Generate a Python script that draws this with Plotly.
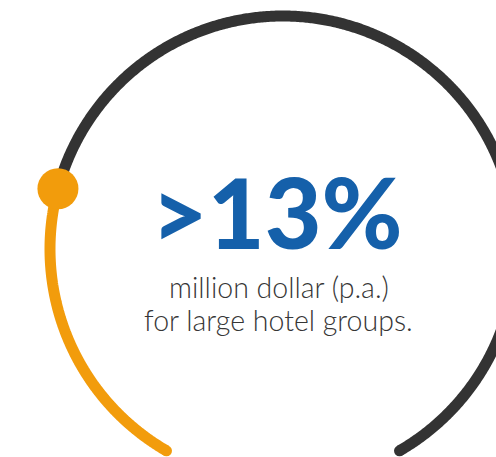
import numpy as np
import plotly.graph_objects as go

# ---- data ----
track_start_deg = 240.0      # where the gauge begins (bottom-left)
track_end_deg = -60.0        # where the gauge ends (bottom-right)
progress_share = 0.25        # share of the track filled in orange
headline = ">13%"
caption_lines = ["million dollar (p.a.)", "for large hotel groups."]

# ---- styling / layout constants ----
W, H = 496, 457
CX, CY, R = 283.0, 249.0, 233.0   # ring centre & radius in pixels
GRAY = "#333333"
ORANGE = "#F29C0C"
BLUE = "#1560AA"
LW = 11

split_deg = track_start_deg + (track_end_deg - track_start_deg) * progress_share


def arc(a0, a1, n=600):
    t = np.radians(np.linspace(a0, a1, n))
    return np.cos(t), np.sin(t)


gx, gy = arc(split_deg, track_end_deg)
ox, oy = arc(track_start_deg, split_deg)

fig = go.Figure()
fig.add_trace(go.Scatter(x=gx, y=gy, mode="lines",
                         line=dict(color=GRAY, width=LW, simplify=False),
                         hoverinfo="skip"))
fig.add_trace(go.Scatter(x=[gx[-1]], y=[gy[-1]], mode="markers",
                         marker=dict(color=GRAY, size=LW), hoverinfo="skip"))
fig.add_trace(go.Scatter(x=ox, y=oy, mode="lines",
                         line=dict(color=ORANGE, width=LW, simplify=False),
                         hoverinfo="skip"))
fig.add_trace(go.Scatter(x=[ox[0]], y=[oy[0]], mode="markers",
                         marker=dict(color=ORANGE, size=LW), hoverinfo="skip"))
fig.add_trace(go.Scatter(x=[ox[-1]], y=[oy[-1]], mode="markers",
                         marker=dict(color=ORANGE, size=41), hoverinfo="skip"))


def px2x(px):
    return (px - CX) / R


def py2y(py):
    return (CY - py) / R


fig.add_annotation(x=px2x(277), y=py2y(211), text=headline, showarrow=False,
                   xanchor="center", yanchor="middle",
                   font=dict(family="Lato", size=98, color=BLUE, weight=900))
for i, line in enumerate(caption_lines):
    fig.add_annotation(x=px2x(278.5), y=py2y(287 + 33 * i), text=line, showarrow=False,
                       xanchor="center", yanchor="middle",
                       font=dict(family="Lato", size=28.5, color="#363636", weight=300))

fig.update_layout(
    width=W, height=H, margin=dict(l=0, r=0, t=0, b=0),
    paper_bgcolor="white", plot_bgcolor="white", showlegend=False, hovermode=False,
    xaxis=dict(range=[px2x(0), px2x(W)], visible=False, fixedrange=True),
    yaxis=dict(range=[py2y(H), py2y(0)], visible=False, fixedrange=True),
)
fig.write_html(
    "out.html",
    config={"displayModeBar": False},
    post_script="document.body.style.margin='0';document.body.style.overflow='hidden';",
)
